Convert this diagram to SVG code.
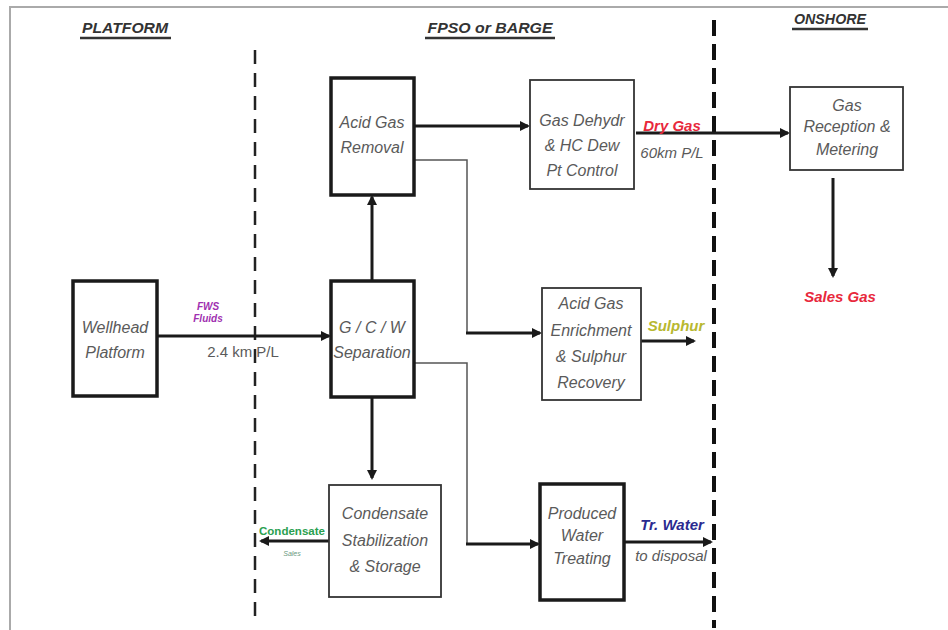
<svg xmlns="http://www.w3.org/2000/svg" width="948" height="630" viewBox="0 0 948 630">
<defs>
<style>
.hdr{font-family:"Liberation Sans",Arial,sans-serif;font-weight:bold;font-style:italic;font-size:15px;fill:#333;text-anchor:middle}
.lbl{font-family:"Liberation Sans",Arial,sans-serif;font-style:italic;font-size:16px;fill:#5a5a5a;text-anchor:middle}
.thick{fill:#fff;stroke:#1a1a1a;stroke-width:3.5}
.thin{fill:#fff;stroke:#333;stroke-width:1.8}
.conn{fill:none;stroke:#1a1a1a;stroke-width:3}
.thinc{fill:none;stroke:#555;stroke-width:1.5}
.tag{font-family:"Liberation Sans",Arial,sans-serif;font-weight:bold;font-style:italic;font-size:15px;text-anchor:middle}
</style>
<marker id="ah" markerWidth="10" markerHeight="10" refX="8" refY="5" orient="auto" markerUnits="userSpaceOnUse" viewBox="0 0 10 10">
<path d="M0,0 L10,5 L0,10 Z" fill="#1a1a1a"/>
</marker>
</defs>
<rect x="0" y="0" width="948" height="630" fill="#fff"/>
<path d="M10,630 L10,7 L948,7" fill="none" stroke="#aaa" stroke-width="2"/>

<g id="headers">
<text class="hdr" x="125" y="33" textLength="86" lengthAdjust="spacingAndGlyphs">PLATFORM</text>
<line x1="80" y1="38" x2="171" y2="38" stroke="#333" stroke-width="2.5"/>
<text class="hdr" x="490" y="33" textLength="125" lengthAdjust="spacingAndGlyphs">FPSO or BARGE</text>
<line x1="425" y1="38" x2="555" y2="38" stroke="#333" stroke-width="2.5"/>
<text class="hdr" x="830" y="24" textLength="72" lengthAdjust="spacingAndGlyphs">ONSHORE</text>
<line x1="792" y1="29" x2="868" y2="29" stroke="#333" stroke-width="2.5"/>
</g>

<g id="boundaries">
<line x1="255" y1="50" x2="255" y2="622" stroke="#222" stroke-width="2.5" stroke-dasharray="14,9"/>
<line x1="714" y1="20" x2="714" y2="628" stroke="#111" stroke-width="4" stroke-dasharray="16,8"/>
</g>

<g id="connectors">
<line class="conn" x1="157" y1="336" x2="329" y2="336" marker-end="url(#ah)"/>
<line class="conn" x1="372" y1="280" x2="372" y2="197" marker-end="url(#ah)"/>
<line class="conn" x1="414" y1="126" x2="528" y2="126" marker-end="url(#ah)"/>
<path class="thinc" d="M414,160 L467,160 L467,333"/>
<line class="conn" x1="466" y1="333" x2="540" y2="333" marker-end="url(#ah)"/>
<line class="conn" x1="641" y1="341" x2="694" y2="341" marker-end="url(#ah)"/>
<line class="conn" x1="636" y1="133" x2="788" y2="133" marker-end="url(#ah)"/>
<line class="conn" x1="833" y1="178" x2="833" y2="276" marker-end="url(#ah)"/>
<line class="conn" x1="372" y1="398" x2="372" y2="478" marker-end="url(#ah)"/>
<path class="thinc" d="M414,363 L467,363 L467,544"/>
<line class="conn" x1="466" y1="544" x2="538" y2="544" marker-end="url(#ah)"/>
<line class="conn" x1="329" y1="541" x2="261" y2="541" marker-end="url(#ah)"/>
<line class="conn" x1="624" y1="542" x2="711" y2="542" marker-end="url(#ah)"/>
<text class="tag" x="208" y="310" style="font-size:10px;fill:#a030b0">FWS</text>
<text class="tag" x="208" y="322" style="font-size:10px;fill:#a030b0">Fluids</text>
<text class="lbl" x="243" y="357" style="font-style:normal;font-size:15px">2.4 km P/L</text>
<text class="tag" x="672" y="131" style="fill:#e8283c">Dry Gas</text>
<text class="lbl" x="672" y="158" style="font-size:15px">60km P/L</text>
<text class="tag" x="676" y="331" style="fill:#b8b830">Sulphur</text>
<text class="tag" x="840" y="302" style="fill:#e8283c">Sales Gas</text>
<text class="tag" x="292" y="535" style="font-size:10px;fill:#2aa050;font-style:normal" textLength="66" lengthAdjust="spacingAndGlyphs">Condensate</text>
<text class="tag" x="292" y="556" style="font-size:7px;fill:#6a9a80;font-weight:normal">Sales</text>
<text class="tag" x="672" y="530" style="fill:#2a2a90">Tr. Water</text>
<text class="lbl" x="671" y="561" style="font-size:15px">to disposal</text>
</g>

<g id="wellhead">
<rect class="thick" x="73" y="281" width="84" height="115"/>
<text class="lbl" x="115" y="333">Wellhead</text>
<text class="lbl" x="115" y="358">Platform</text>
</g>
<g id="acid-gas-removal">
<rect class="thick" x="331" y="78" width="83" height="117"/>
<text class="lbl" x="372" y="128">Acid Gas</text>
<text class="lbl" x="372" y="153">Removal</text>
</g>
<g id="gas-dehydr">
<rect class="thin" x="530" y="80" width="104" height="109"/>
<text class="lbl" x="582" y="126">Gas Dehydr</text>
<text class="lbl" x="582" y="151">&amp; HC Dew</text>
<text class="lbl" x="582" y="176">Pt Control</text>
</g>
<g id="gas-reception">
<rect class="thin" x="790" y="87" width="113" height="83"/>
<text class="lbl" x="847" y="111">Gas</text>
<text class="lbl" x="847" y="132">Reception &amp;</text>
<text class="lbl" x="847" y="155">Metering</text>
</g>
<g id="separation">
<rect class="thick" x="331" y="281" width="83" height="116"/>
<text class="lbl" x="372" y="333">G / C / W</text>
<text class="lbl" x="372" y="358">Separation</text>
</g>
<g id="acid-gas-enrichment">
<rect class="thin" x="542" y="288" width="99" height="112"/>
<text class="lbl" x="591" y="309">Acid Gas</text>
<text class="lbl" x="591" y="336">Enrichment</text>
<text class="lbl" x="591" y="362">&amp; Sulphur</text>
<text class="lbl" x="591" y="388">Recovery</text>
</g>
<g id="condensate">
<rect class="thin" x="329" y="485" width="112" height="112"/>
<text class="lbl" x="385" y="519">Condensate</text>
<text class="lbl" x="385" y="546">Stabilization</text>
<text class="lbl" x="385" y="572">&amp; Storage</text>
</g>
<g id="produced-water">
<rect class="thick" x="540" y="484" width="84" height="116"/>
<text class="lbl" x="582" y="519">Produced</text>
<text class="lbl" x="582" y="541">Water</text>
<text class="lbl" x="582" y="564">Treating</text>
</g>
</svg>
